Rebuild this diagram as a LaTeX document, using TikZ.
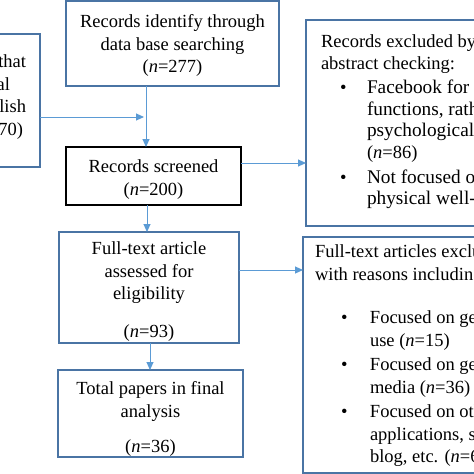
\documentclass[tikz,border=0pt]{standalone}
\usepackage{fontspec}
\setmainfont{Liberation Serif}
\usetikzlibrary{arrows.meta}
\definecolor{boxblue}{HTML}{4A74A4}
\definecolor{arrblue}{HTML}{5B9BD5}
\newcommand{\pbx}[4]{\parbox[c][#2][t]{#1}{\vspace*{#3}#4}}
\newcommand{\itm}[2]{\hspace*{#1}\makebox[#2][l]{\textbullet}}
\newcommand{\bigit}{\fontsize{19.3}{21.5}\selectfont}
\tikzset{
  fbox/.style={draw=boxblue, line width=1.5pt, inner ysep=0pt, outer sep=0pt,
    anchor=north west, font=\fontsize{18.5}{22.5}\selectfont},
  arr/.style={draw=arrblue, line width=1pt, -{Triangle[length=8pt,width=7pt]}}
}
\begin{document}
\begin{tikzpicture}[x=1pt,y=-1pt]
\useasboundingbox (0,0) rectangle (474,474);
\clip (0,0) rectangle (474,474);
\fill[white] (0,0) rectangle (474,474);

\node[fbox, inner xsep=0pt] (top) at (66,1)
  {\pbx{213pt}{85pt}{10.75pt}{\centering\strut Records identify through\\ data base searching\\ (\textit{n}=277)}};

\node[fbox, inner xsep=14pt, anchor=north east] (lft) at (40,34)
  {\pbx{212pt}{133pt}{17.75pt}{\raggedleft\strut Records excluded that\\ were not empirical\rule{16pt}{0pt}\\ or not in English\\ (\textit{n}=70)\rule{3pt}{0pt}}};

\node[fbox, draw=black, inner xsep=0pt] (scr) at (66,147)
  {\pbx{175pt}{58pt}{9.75pt}{\centering\strut Records screened\\ (\textit{n}=200)}};

\node[fbox, inner xsep=0pt] (full) at (59,232)
  {\pbx{180pt}{111pt}{6.75pt}{\centering\strut Full-text article\\ assessed for\\ eligibility\\[15.5pt] (\textit{n}=93)}};

\node[fbox, inner xsep=0pt] (tot) at (58,370)
  {\pbx{185pt}{87pt}{8.75pt}{\centering\strut Total papers in final\\ analysis\\[13pt] (\textit{n}=36)}};

\node[fbox, inner xsep=15pt] (ex1) at (306,20)
  {\pbx{270pt}{206pt}{12.45pt}{\raggedright\fontsize{18.5}{21.5}\selectfont\strut Records excluded by title and\\
   abstract checking:\\[3pt]
   \itm{19pt}{27pt}{\bigit Facebook for other}\\
   \hspace*{46pt}{\bigit functions, rather than}\\
   \hspace*{46pt}{\bigit psychological well-being}\\
   \hspace*{46pt}(\textit{n}=86)\\[3.5pt]
   \itm{19pt}{27pt}{\bigit Not focused on}\\
   \hspace*{46pt}{\bigit physical well-being} (\textit{n}=21)}};

\node[fbox, inner xsep=12pt] (ex2) at (303,237)
  {\pbx{300pt}{236pt}{4.75pt}{\raggedright\strut Full-text articles excluded,\\
   with reasons including:\\[21pt]
   \itm{26pt}{29pt}Focused on general Facebook\\
   \hspace*{55pt}use (\textit{n}=15)\\[2pt]
   \itm{26pt}{29pt}Focused on general social\\
   \hspace*{55pt}media (\textit{n}=36)\\[2pt]
   \itm{26pt}{29pt}Focused on other\\
   \hspace*{55pt}applications, such as Twitter,\\
   \hspace*{55pt}blog, etc. (\textit{n}=6)}};

\coordinate (ax1) at (146,0);
\coordinate (jn) at (144,117);
\coordinate (ay3) at (0,163);
\coordinate (ax4) at (147,0);
\coordinate (ay5) at (0,270);
\coordinate (ax6) at (150,0);

\draw[arr] (top.south -| ax1) -- (scr.north -| ax1);
\draw[arr] (lft.east |- jn) -- (jn);
\draw[arr] (scr.east |- ay3) -- (ex1.west |- ay3);
\draw[arr] (scr.south -| ax4) -- (full.north -| ax4);
\draw[arr] (full.east |- ay5) -- (ex2.west |- ay5);
\draw[arr] (full.south -| ax6) -- (tot.north -| ax6);
\end{tikzpicture}
\end{document}
